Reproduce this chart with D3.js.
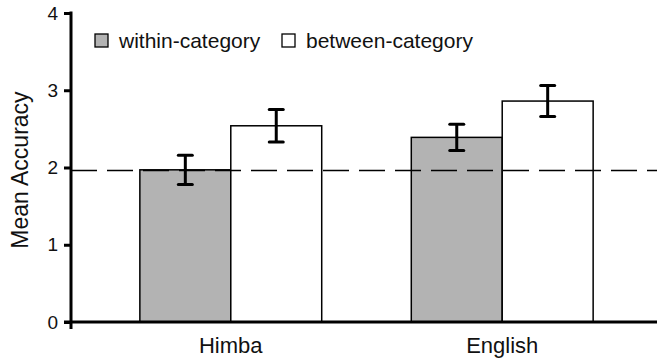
<!DOCTYPE html>
<html>
<head>
<meta charset="utf-8">
<script src="https://cdn.jsdelivr.net/npm/d3@7"></script>
<style>
  body { margin: 0; background: #fff; }
  text { font-family: "Liberation Sans", Arial, sans-serif; fill: #111; }
</style>
</head>
<body>
<div id="chart"></div>
<script>
// data
const groups = ["Himba", "English"];
const series = ["within-category", "between-category"];
const means = [[1.97, 2.54], [2.39, 2.86]];
const errors = [[0.19, 0.21], [0.17, 0.20]];
const chance = 1.96;
const yTicks = [0, 1, 2, 3, 4];

const colors = { "within-category": "#b3b3b3", "between-category": "#ffffff" };

const width = 657, height = 362;
const axisX = 71;

const svg = d3.select("#chart").append("svg")
    .attr("width", width)
    .attr("height", height);

const y = d3.scaleLinear().domain([0, 4]).range([322, 13]);

const x0 = d3.scaleBand()
    .domain(groups)
    .range([72, 661])
    .paddingInner(0.33)
    .paddingOuter(0.25);

const x1 = d3.scaleBand()
    .domain(series)
    .range([0, x0.bandwidth()]);

// bars
const g = svg.selectAll("g.group")
    .data(groups)
    .join("g")
    .attr("class", "group")
    .attr("transform", d => `translate(${x0(d)},0)`);

g.selectAll("rect")
    .data((d, i) => series.map((s, j) => ({ s, v: means[i][j], e: errors[i][j] })))
    .join("rect")
    .attr("x", d => x1(d.s))
    .attr("y", d => y(d.v))
    .attr("width", x1.bandwidth())
    .attr("height", d => y(0) - y(d.v))
    .attr("fill", d => colors[d.s])
    .attr("stroke", "#000")
    .attr("stroke-width", 1.5);

// dashed chance line
svg.append("line")
    .attr("x1", axisX)
    .attr("x2", width)
    .attr("y1", y(chance))
    .attr("y2", y(chance))
    .attr("stroke", "#000")
    .attr("stroke-width", 1.5)
    .attr("stroke-dasharray", "26,10");

// error bars
const eb = g.selectAll("g.err")
    .data((d, i) => series.map((s, j) => ({ s, v: means[i][j], e: errors[i][j] })))
    .join("g")
    .attr("class", "err")
    .attr("transform", d => `translate(${x1(d.s) + x1.bandwidth() / 2},0)`)
    .attr("stroke", "#000")
    .attr("stroke-width", 3);

eb.append("line")
    .attr("y1", d => y(d.v - d.e))
    .attr("y2", d => y(d.v + d.e));
eb.append("line")
    .attr("x1", -7).attr("x2", 7)
    .attr("y1", d => y(d.v + d.e)).attr("y2", d => y(d.v + d.e))
    .attr("stroke-linecap", "round");
eb.append("line")
    .attr("x1", -7).attr("x2", 7)
    .attr("y1", d => y(d.v - d.e)).attr("y2", d => y(d.v - d.e))
    .attr("stroke-linecap", "round");

// y axis
const yAxis = svg.append("g")
    .attr("transform", `translate(${axisX},0)`)
    .call(d3.axisLeft(y).tickValues(yTicks).tickSize(7).tickPadding(6).tickFormat(d3.format("d")));
yAxis.select(".domain").remove();
yAxis.selectAll(".tick line").attr("stroke", "#000").attr("stroke-width", 3);
yAxis.selectAll(".tick text")
    .attr("font-size", 19)
    .attr("font-family", "Liberation Sans, Arial, sans-serif")
    .attr("fill", "#111");
yAxis.append("line")
    .attr("y1", y(4) - 1.5).attr("y2", y(0) + 7)
    .attr("stroke", "#000").attr("stroke-width", 3);

// x axis line
svg.append("line")
    .attr("x1", axisX - 7).attr("x2", width)
    .attr("y1", y(0)).attr("y2", y(0))
    .attr("stroke", "#000").attr("stroke-width", 3);

// x labels
svg.selectAll("text.xlab")
    .data(groups)
    .join("text")
    .attr("class", "xlab")
    .attr("x", d => x0(d) + x0.bandwidth() / 2)
    .attr("y", 353)
    .attr("text-anchor", "middle")
    .attr("font-size", 22)
    .text(d => d);

// y label
svg.append("text")
    .attr("transform", `translate(28,170) rotate(-90)`)
    .attr("text-anchor", "middle")
    .attr("font-size", 23)
    .text("Mean Accuracy");

// legend
const legendPos = [95, 282];
const leg = svg.selectAll("g.leg")
    .data(series)
    .join("g")
    .attr("class", "leg")
    .attr("transform", (d, i) => `translate(${legendPos[i]},34)`);
leg.append("rect")
    .attr("width", 13).attr("height", 13)
    .attr("fill", d => colors[d])
    .attr("stroke", "#000").attr("stroke-width", 1.3);
leg.append("text")
    .attr("x", 24).attr("y", 14)
    .attr("font-size", 21)
    .text(d => d);
</script>
</body>
</html>
